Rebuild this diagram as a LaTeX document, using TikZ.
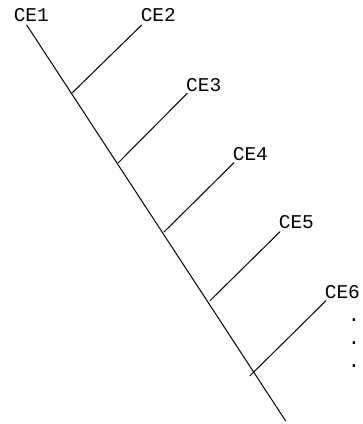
\documentclass[tikz,border=0pt]{standalone}
\usepackage{fontspec}
\setmainfont{Liberation Mono}
\begin{document}
\begin{tikzpicture}[x=1bp,y=-1bp,
  lab/.style={font=\fontsize{19.5bp}{24bp}\selectfont, inner sep=0pt, anchor=base west},
  stem/.style={line width=1bp, line cap=round}]
\useasboundingbox (0,0) rectangle (363,424);
% main line
\coordinate (top) at (26.7,25);
\coordinate (bot) at (285.7,421);
% branch start and end points
\coordinate (b2) at (72,93);    \coordinate (e2) at (141.7,25);
\coordinate (b3) at (118,163);  \coordinate (e3) at (187.3,93.3);
\coordinate (b4) at (164,232);  \coordinate (e4) at (234,162.7);
\coordinate (b5) at (210,300.7);\coordinate (e5) at (280,231.7);
\coordinate (b6) at (250,375.7);\coordinate (e6) at (326,300.7);
% labels
\node[lab] (l1) at (13.6,21.7) {CE1};
\node[lab] (l2) at (140.6,21.7) {CE2};
\node[lab] (l3) at (186,91.7) {CE3};
\node[lab] (l4) at (232.6,160) {CE4};
\node[lab] (l5) at (278.6,228.5) {CE5};
\node[lab] (l6) at (324.6,298) {CE6};
\node[lab] (d1) at (348,321.5) {.};
\node[lab] (d2) at (348,344.2) {.};
\node[lab] (d3) at (348,367.2) {.};
% connectors
\draw[stem] (top) -- (bot);
\draw[stem] (b2) -- (e2);
\draw[stem] (b3) -- (e3);
\draw[stem] (b4) -- (e4);
\draw[stem] (b5) -- (e5);
\draw[stem] (b6) -- (e6);
\end{tikzpicture}
\end{document}
